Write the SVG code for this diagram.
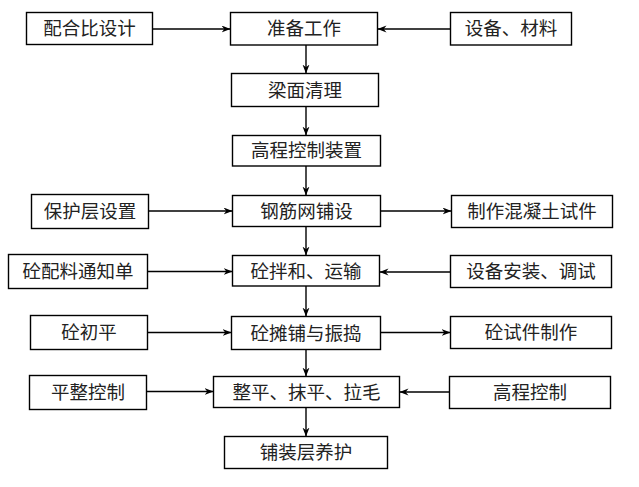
<svg xmlns="http://www.w3.org/2000/svg" width="639" height="487" viewBox="0 0 639 487">
<style>
rect{fill:#fff;stroke:#000;stroke-width:1.4}
text{font-family:"Noto Sans CJK SC","Noto Sans CJK JP",sans-serif;font-size:18.5px;fill:#222;text-anchor:middle}
.c line{stroke:#000;stroke-width:1.4;marker-end:url(#a)}
</style>
<defs>
<marker id="a" markerUnits="userSpaceOnUse" markerWidth="10" markerHeight="8" refX="9" refY="3.5" orient="auto">
<path d="M0,0 L9,3.5 L0,7 L2.8,3.5 z" fill="#000"/>
</marker>
</defs>
<g class="c" id="connectors">
<line x1="152.5" y1="29" x2="230.5" y2="29"/>
<line x1="450.5" y1="29" x2="377.5" y2="29"/>
<line x1="306" y1="45" x2="306" y2="73.5"/>
<line x1="306" y1="106.5" x2="306" y2="135.5"/>
<line x1="306" y1="166" x2="306" y2="195.5"/>
<line x1="148.5" y1="211" x2="232.5" y2="211"/>
<line x1="380.5" y1="211" x2="451.5" y2="211"/>
<line x1="306" y1="226.5" x2="306" y2="255.5"/>
<line x1="147.5" y1="271.5" x2="232.5" y2="271.5"/>
<line x1="450.5" y1="272" x2="379.5" y2="272"/>
<line x1="306" y1="286" x2="306" y2="316.5"/>
<line x1="147.5" y1="332.5" x2="231.5" y2="332.5"/>
<line x1="380.5" y1="332.5" x2="450.5" y2="332.5"/>
<line x1="306" y1="349.5" x2="306" y2="376.5"/>
<line x1="146.5" y1="391.5" x2="213.5" y2="391.5"/>
<line x1="449.5" y1="392" x2="399.5" y2="392"/>
<line x1="306" y1="407.5" x2="306" y2="436.5"/>
</g>
<g id="n1"><rect x="26.5" y="12.5" width="126" height="32"/><text x="89.5" y="35">配合比设计</text></g>
<g id="n2"><rect x="230.5" y="12.5" width="147" height="32.5"/><text x="304" y="35">准备工作</text></g>
<g id="n3"><rect x="450.5" y="12.5" width="121" height="32.5"/><text x="511" y="35">设备、材料</text></g>
<g id="n4"><rect x="231.5" y="73.5" width="147" height="33"/><text x="305" y="96.5">梁面清理</text></g>
<g id="n5"><rect x="232.5" y="135.5" width="148" height="30.5"/><text x="306.5" y="157">高程控制装置</text></g>
<g id="n6"><rect x="31.5" y="194.5" width="117" height="34"/><text x="90" y="218">保护层设置</text></g>
<g id="n7"><rect x="232.5" y="195.5" width="148" height="31"/><text x="306.5" y="217.5">钢筋网铺设</text></g>
<g id="n8"><rect x="451.5" y="195.5" width="161" height="32"/><text x="532" y="218">制作混凝土试件</text></g>
<g id="n9"><rect x="8.5" y="254.5" width="139" height="34"/><text x="78" y="278">砼配料通知单</text></g>
<g id="n10"><rect x="232.5" y="255.5" width="147" height="30.5"/><text x="306" y="277.5">砼拌和、运输</text></g>
<g id="n11"><rect x="450.5" y="255.5" width="161" height="32"/><text x="531" y="278">设备安装、调试</text></g>
<g id="n12"><rect x="30.5" y="315.5" width="117" height="34"/><text x="89" y="339">砼初平</text></g>
<g id="n13"><rect x="231.5" y="316.5" width="149" height="33"/><text x="306" y="339.5">砼摊铺与振捣</text></g>
<g id="n14"><rect x="450.5" y="316.5" width="161" height="32"/><text x="531" y="339">砼试件制作</text></g>
<g id="n15"><rect x="29.5" y="375.5" width="117" height="34"/><text x="88" y="399">平整控制</text></g>
<g id="n16"><rect x="213.5" y="376.5" width="186" height="31"/><text x="306.5" y="398.5">整平、抹平、拉毛</text></g>
<g id="n17"><rect x="449.5" y="376.5" width="161" height="32"/><text x="530" y="399">高程控制</text></g>
<g id="n18"><rect x="224.5" y="436.5" width="163" height="32"/><text x="306" y="459">铺装层养护</text></g>
</svg>
